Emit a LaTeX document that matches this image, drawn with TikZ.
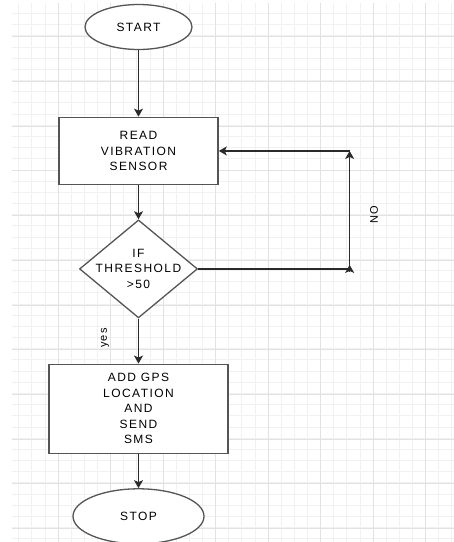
\documentclass[tikz,border=0pt]{standalone}
\usepackage{fontspec}
\setmainfont{Liberation Sans}[LetterSpace=12]
\usetikzlibrary{arrows.meta, positioning, shapes.geometric}

\definecolor{gridminor}{HTML}{F1F1F1}
\definecolor{gridmajor}{HTML}{E2E2E2}
\definecolor{edgegray}{HTML}{555555}
\definecolor{linegray}{HTML}{2A2A2A}

\begin{document}
\begin{tikzpicture}[
    x=1pt, y=-1pt,
    >={Stealth[length=8pt, width=9pt, inset=2pt]},
    font=\fontsize{12}{15.5}\selectfont,
    terminal/.style={
      draw=edgegray, ellipse, line width=1.3pt, fill=white,
      inner sep=0pt, align=center},
    process/.style={
      draw=edgegray, line width=1.6pt, fill=white,
      inner sep=0pt, align=center},
    decision/.style={
      draw=edgegray, diamond, line width=1.3pt, fill=white,
      inner sep=0pt, minimum width=118pt, minimum height=98pt},
    flow/.style={->, linegray, line width=1.3pt},
    lbl/.style={rotate=90, inner sep=1pt, font=\fontsize{11}{13}\selectfont},
]

\useasboundingbox (0,0) rectangle (454,542);

% ---- background grid ----
\foreach \k in {0,...,33}
  \draw[gridminor, line width=0.6pt] ({18.6+13.125*\k},3) -- ({18.6+13.125*\k},542);
\foreach \k in {0,...,47}
  \draw[gridminor, line width=0.6pt] (12,{13.35+11.175*\k}) -- (454,{13.35+11.175*\k});
\foreach \k in {0,...,7}
  \draw[gridmajor, line width=0.8pt] ({58+52.5*\k},3) -- ({58+52.5*\k},542);
\foreach \k in {0,...,11}
  \draw[gridmajor, line width=0.8pt] (12,{36.7+44.7*\k}) -- (454,{36.7+44.7*\k});

% ---- flow chart ----
\node[terminal, minimum width=107pt, minimum height=45pt] (start) at (138.5,27) {START};
\node[process, minimum width=159pt, minimum height=67pt, below=66.5pt of start]
  (read) {READ\\VIBRATION\\SENSOR};
\node[decision, below=34pt of read,
  label={[align=center, inner sep=0pt]center:IF\\THRESHOLD\\>50}] (dec) {};
\node[process, minimum width=179pt, minimum height=89pt, below=45pt of dec]
  (gps) {ADD GPS\\LOCATION\\AND\\SEND\\SMS};
\node[terminal, minimum width=131pt, minimum height=55pt, below=34pt of gps] (stop) {STOP};

\draw[flow] (start) -- (read);
\draw[flow] (read) -- (dec);
\draw[flow] (dec) -- (gps);
\draw[flow] (gps) -- (stop);

% ---- NO branch back to the sensor ----
\coordinate[right=151.5pt of dec.east] (nobot);
\coordinate (notop) at (nobot |- read.east);

\draw[linegray, line width=1.3pt] (dec.east) -- (nobot);
\draw[flow] ([yshift=-3pt] nobot) -- ([yshift=4pt] nobot);
\draw[flow] (nobot) -- (notop);
\draw[flow] (notop) -- (read.east);

% ---- branch labels ----
\node[lbl] (nolbl) at (374,215) {NO};
\node[lbl] (yeslbl) at (105,338) {yes};

\end{tikzpicture}
\end{document}
